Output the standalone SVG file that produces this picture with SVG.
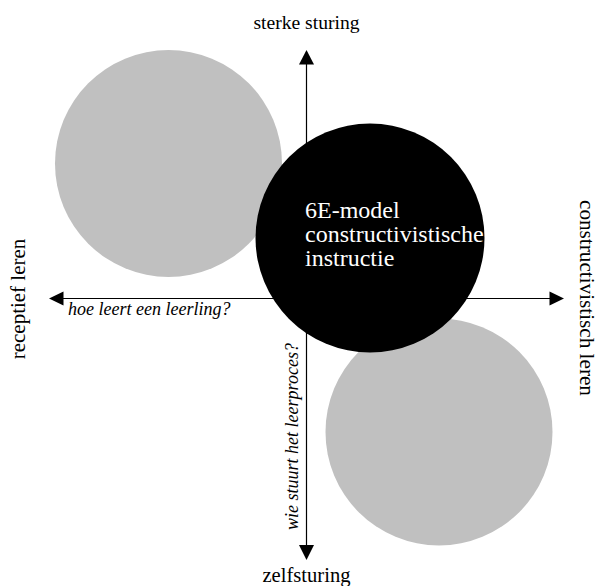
<svg xmlns="http://www.w3.org/2000/svg" width="599" height="586" viewBox="0 0 599 586">
<style>
text{font-family:'Liberation Serif','Times New Roman','DejaVu Serif',serif}
.it{font-style:italic;font-size:18px}
.axis{stroke:#000;stroke-width:1.2;fill:none}
.head{fill:#000}
.gray{fill:#c0c0c0}
</style>
<rect width="599" height="586" fill="#fff"/>
<g id="node-tl"><circle class="gray" cx="168.5" cy="163.5" r="113.5"/></g>
<g id="node-br"><circle class="gray" cx="439" cy="432" r="113.5"/></g>
<g id="connectors">
<line class="axis" x1="306.5" y1="62" x2="306.5" y2="547"/>
<line class="axis" x1="61" y1="298.5" x2="552" y2="298.5"/>
<polygon class="head" points="306.5,50 299,64.5 314,64.5"/>
<polygon class="head" points="306.5,560 299,545 314,545"/>
<polygon class="head" points="49,298.5 63.5,291.5 63.5,305.5"/>
<polygon class="head" points="564,298.5 549.5,291.5 549.5,305.5"/>
</g>
<g id="node-center">
<circle cx="370" cy="238" r="114.5" fill="#000"/>
<text font-family="Liberation Serif, serif" font-size="24" fill="#fff"><tspan x="305" y="218">6E-model</tspan><tspan x="305" y="242">constructivistische</tspan><tspan x="305" y="266">instructie</tspan></text>
</g>
<g id="labels">
<text font-family="Liberation Serif, serif" font-size="19.6" x="306.5" y="29" text-anchor="middle">sterke sturing</text>
<text font-family="Liberation Serif, serif" font-size="20.6" x="306.5" y="582" text-anchor="middle">zelfsturing</text>
<text font-family="Liberation Serif, serif" font-size="21" text-anchor="middle" transform="translate(25,299) rotate(-90)">receptief leren</text>
<text font-family="Liberation Serif, serif" font-size="21.2" text-anchor="middle" transform="translate(579.5,298) rotate(90)">constructivistisch leren</text>
<text class="it" font-family="Liberation Serif, serif" x="68" y="315">hoe leert een leerling?</text>
<text class="it" font-family="Liberation Serif, serif" text-anchor="middle" transform="translate(298,436.5) rotate(-90)">wie stuurt het leerproces?</text>
</g>
</svg>
